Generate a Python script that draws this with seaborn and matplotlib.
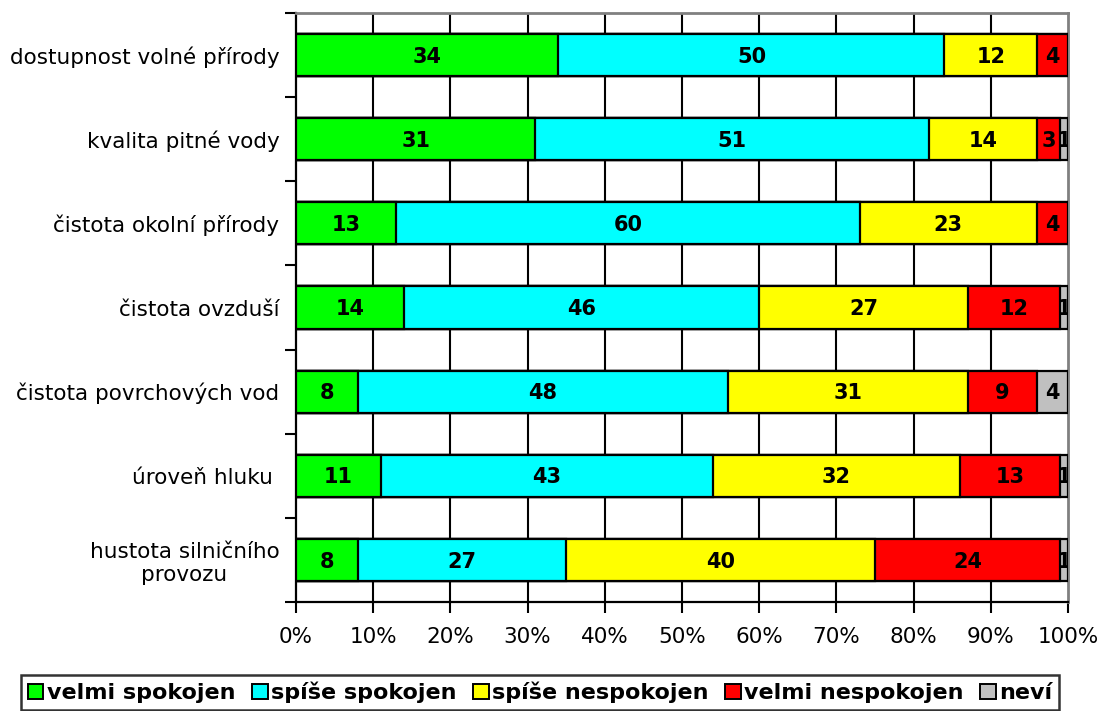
import matplotlib
matplotlib.use("Agg")
import matplotlib.pyplot as plt
import seaborn as sns
import pandas as pd
import numpy as np

categories = ["dostupnost volné přírody", "kvalita pitné vody", "čistota okolní přírody",
              "čistota ovzduší", "čistota povrchových vod", "úroveň hluku ",
              "hustota silničního\nprovozu"]
series_names = ["velmi spokojen", "spíše spokojen", "spíše nespokojen", "velmi nespokojen", "neví"]
velmi_spokojen = [34, 31, 13, 14, 8, 11, 8]
spise_spokojen = [50, 51, 60, 46, 48, 43, 27]
spise_nespokojen = [12, 14, 23, 27, 31, 32, 40]
velmi_nespokojen = [4, 3, 4, 12, 9, 13, 24]
nevi = [0, 1, 0, 1, 4, 1, 1]
colors = ["#00FF00", "#00FFFF", "#FFFF00", "#FF0000", "#C0C0C0"]
xtick_labels = ["0%", "10%", "20%", "30%", "40%", "50%", "60%", "70%", "80%", "90%", "100%"]

sns.set_style("white")
plt.rcParams['font.family'] = ['DejaVu Sans']
plt.rcParams['text.color'] = 'black'
plt.rcParams['xtick.color'] = 'black'
plt.rcParams['ytick.color'] = 'black'

values = [velmi_spokojen, spise_spokojen, spise_nespokojen, velmi_nespokojen, nevi]
df = pd.DataFrame(dict(zip(series_names, values)), index=categories)
cum = df.cumsum(axis=1)

fig = plt.figure(figsize=(11.01, 7.11), dpi=100)
ax = fig.add_axes([296/1101, 1 - 602/711, (1068 - 296)/1101, (602 - 13)/711])

for name, col in reversed(list(zip(series_names, colors))):
    d = pd.DataFrame({"cat": categories, "val": cum[name].values})
    sns.barplot(data=d, x="val", y="cat", orient="h", color=col, saturation=1,
                edgecolor="black", linewidth=1.6, width=0.5, ax=ax, zorder=3)

for i, cat in enumerate(categories):
    start = 0
    for name in series_names:
        v = df.loc[cat, name]
        if v > 0:
            ax.text(start + v / 2, i + 0.02, f"{v}", ha="center", va="center",
                    fontsize=15, fontweight="bold", color="black", zorder=5,
                    clip_on=True)
        start += v

ax.set_xlim(0, 100)
ax.set_ylim(len(categories) - 0.5, -0.5)
ax.set_xticks(np.arange(0, 101, 10))
ax.set_xticklabels(xtick_labels, fontsize=15.5)
ax.set_yticks(range(len(categories)))
ax.set_yticklabels(categories, fontsize=15.5, multialignment="center")
ax.set_yticks(np.arange(-0.5, len(categories), 1), minor=True)
ax.tick_params(axis="y", which="both", left=True)
ax.tick_params(axis="x", which="major", bottom=True)
ax.tick_params(axis="y", which="major", length=0, pad=12)
ax.tick_params(axis="y", which="minor", length=8, width=1.5, direction="out", color="black")
ax.tick_params(axis="x", which="major", length=8, width=1.5, direction="out", color="black", pad=10)
ax.set_xlabel("")
ax.set_ylabel("")

for x in np.arange(10, 100, 10):
    ax.axvline(x, color="black", linewidth=1.5, zorder=1)

for s in ["left", "bottom"]:
    ax.spines[s].set_color("black")
    ax.spines[s].set_linewidth(1.6)
    ax.spines[s].set_visible(True)
for s in ["top", "right"]:
    ax.spines[s].set_color("#808080")
    ax.spines[s].set_linewidth(2)
    ax.spines[s].set_visible(True)

from matplotlib.patches import Patch
handles = [Patch(facecolor=c, edgecolor="black", linewidth=1.4) for c in colors]
leg = fig.legend(handles, series_names, loc="lower center", bbox_to_anchor=(0.4905, 0.0),
                 ncol=5, frameon=True, fancybox=False, edgecolor="black",
                 prop={"weight": "bold", "size": 16}, handlelength=0.7, handleheight=0.7,
                 handletextpad=0.15, columnspacing=0.75, borderpad=0.3, borderaxespad=0.05)
leg.get_frame().set_linewidth(1.8)

fig.savefig("out.png", dpi=100)
